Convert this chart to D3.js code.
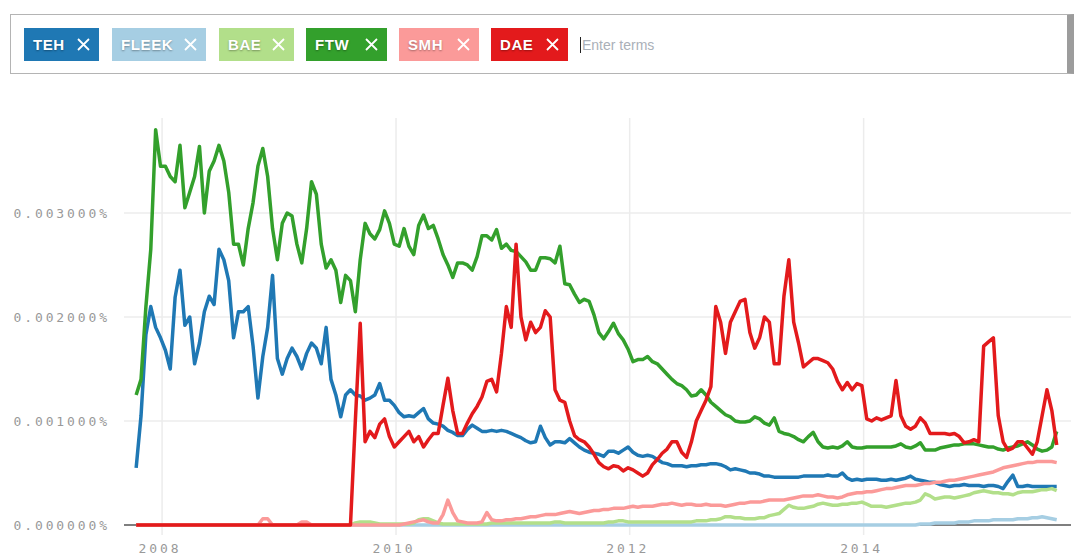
<!DOCTYPE html>
<html>
<head>
<meta charset="utf-8">
<script src="https://cdn.jsdelivr.net/npm/d3@7"></script>
<style>
  body { margin: 0; background: #fff; width: 1079px; height: 556px; overflow: hidden; position: relative; }
  #terms {
    position: absolute; left: 10px; top: 14px; width: 1056px; height: 58px;
    border: 1px solid #b4b4b4; border-right: 7px solid #9c9c9c; box-sizing: content-box;
  }
  .chip {
    position: absolute; top: 13px; height: 33px; line-height: 33px;
    font-family: "Liberation Sans", Arial, sans-serif; font-weight: bold; font-size: 15px;
    color: #fff; text-shadow: 0 1px 2px rgba(0,0,0,0.35); letter-spacing: 0.6px;
    padding-left: 9px; white-space: nowrap; box-sizing: border-box;
  }
  .chip svg { position: absolute; right: 9px; top: 10px; }
  #placeholder {
    position: absolute; left: 569px; top: 22px; font-family: "Liberation Sans", Arial, sans-serif;
    font-size: 14px; color: #aab0b8; border-left: 1.5px solid #222; padding-left: 1px; line-height: 16px;
  }
  #chart { position: absolute; left: 0; top: 0; }
  .lbl { font-family: "DejaVu Sans Mono", monospace; font-size: 13px; fill: #999; letter-spacing: 2.9px; }
</style>
</head>
<body>
<div id="terms"></div>
<svg id="chart" width="1079" height="556"></svg>
<script>
// search terms, same order as the chips
const terms = ["TEH", "FLEEK", "BAE", "FTW", "SMH", "DAE"];
const termColors = ["#1f78b4", "#a6cee3", "#b2df8a", "#33a02c", "#fb9a99", "#e31a1c"];
const chipLeft = [13, 101, 208, 295, 388, 480];
const chipWidth = [75, 94, 75, 81, 80, 77];

// semi-monthly samples, first one in mid October 2007
const firstDay = new Date(2007, 9, 12);
const stepDays = 365.25 / 24;

// values in thousandths of a percent (3 = 0.003000%)
const teh = [
  0.55, 1.05, 1.83, 2.1, 1.9, 1.8, 1.68, 1.5, 2.19, 2.45,
  1.92, 2.0, 1.55, 1.75, 2.05, 2.2, 2.12, 2.65, 2.55, 2.35,
  1.8, 2.05, 2.05, 2.1, 1.72, 1.22, 1.62, 1.9, 2.4, 1.6,
  1.45, 1.6, 1.7, 1.62, 1.5, 1.65, 1.75, 1.7, 1.55, 1.9,
  1.4, 1.25, 1.04, 1.25, 1.3, 1.25, 1.24, 1.2, 1.22, 1.25,
  1.36, 1.2, 1.2, 1.15, 1.08, 1.04, 1.05, 1.04, 1.08, 1.12,
  1.02, 0.98, 0.97, 0.95, 0.91, 0.89, 0.86, 0.86, 0.92, 0.96,
  0.93, 0.9, 0.9, 0.91, 0.9, 0.91, 0.9, 0.88, 0.86, 0.84,
  0.81, 0.79, 0.8, 0.95, 0.84, 0.77, 0.8, 0.8, 0.79, 0.83,
  0.79, 0.75, 0.72, 0.7, 0.69, 0.68, 0.66, 0.71, 0.71, 0.69,
  0.72, 0.75, 0.7, 0.67, 0.66, 0.67, 0.66, 0.63, 0.6, 0.59,
  0.57, 0.57, 0.57, 0.56, 0.57, 0.57, 0.58, 0.58, 0.59, 0.59,
  0.58, 0.56, 0.53, 0.54, 0.53, 0.52, 0.5, 0.5, 0.49, 0.47,
  0.47, 0.46, 0.46, 0.46, 0.46, 0.46, 0.46, 0.47, 0.47, 0.47,
  0.47, 0.47, 0.48, 0.47, 0.47, 0.5, 0.45, 0.43, 0.44, 0.43,
  0.44, 0.44, 0.44, 0.43, 0.43, 0.44, 0.43, 0.44, 0.45, 0.47,
  0.44, 0.43, 0.42, 0.41, 0.41, 0.39, 0.38, 0.37, 0.38, 0.38,
  0.39, 0.38, 0.38, 0.38, 0.37, 0.38, 0.38, 0.37, 0.35, 0.42,
  0.48, 0.37, 0.37, 0.38, 0.37, 0.37, 0.37, 0.37, 0.37, 0.37
];
const fleek = [
  0, 0, 0, 0, 0, 0, 0, 0, 0, 0,
  0, 0, 0, 0, 0, 0, 0, 0, 0, 0,
  0, 0, 0, 0, 0, 0, 0, 0, 0, 0,
  0, 0, 0, 0, 0, 0, 0, 0, 0, 0,
  0, 0, 0, 0, 0, 0, 0, 0, 0, 0,
  0, 0, 0, 0, 0, 0, 0, 0, 0, 0,
  0, 0, 0, 0, 0, 0, 0, 0, 0, 0,
  0, 0, 0, 0, 0, 0, 0, 0, 0, 0,
  0, 0, 0, 0, 0, 0, 0, 0, 0, 0,
  0, 0, 0, 0, 0, 0, 0, 0, 0, 0,
  0, 0, 0, 0, 0, 0, 0, 0, 0, 0,
  0, 0, 0, 0, 0, 0, 0, 0, 0, 0,
  0, 0, 0, 0, 0, 0, 0, 0, 0, 0,
  0, 0, 0, 0, 0, 0, 0, 0, 0, 0,
  0, 0, 0, 0, 0, 0, 0, 0, 0, 0,
  0, 0, 0, 0, 0, 0, 0, 0, 0, 0,
  0, 0.01, 0.01, 0.01, 0.02, 0.02, 0.02, 0.02, 0.02, 0.03,
  0.03, 0.03, 0.04, 0.04, 0.04, 0.04, 0.05, 0.05, 0.05, 0.05,
  0.05, 0.06, 0.06, 0.06, 0.07, 0.07, 0.08, 0.07, 0.06, 0.05
];
const bae = [
  0, 0, 0, 0, 0, 0, 0, 0, 0, 0,
  0, 0, 0, 0, 0, 0, 0, 0, 0, 0,
  0, 0, 0, 0, 0, 0, 0, 0, 0, 0,
  0, 0, 0, 0, 0, 0, 0, 0, 0, 0,
  0, 0, 0, 0, 0, 0.02, 0.03, 0.03, 0.03, 0.02,
  0.01, 0.01, 0.01, 0.01, 0.01, 0.01, 0.01, 0.02, 0.05, 0.06,
  0.06, 0.04, 0.02, 0.01, 0.01, 0.01, 0.01, 0.01, 0.01, 0.01,
  0.01, 0.01, 0.01, 0.02, 0.02, 0.02, 0.02, 0.02, 0.02, 0.02,
  0.02, 0.02, 0.02, 0.02, 0.02, 0.02, 0.03, 0.03, 0.02, 0.02,
  0.02, 0.02, 0.02, 0.02, 0.02, 0.02, 0.02, 0.03, 0.03, 0.04,
  0.04, 0.03, 0.03, 0.03, 0.03, 0.03, 0.03, 0.03, 0.03, 0.03,
  0.03, 0.03, 0.03, 0.03, 0.03, 0.04, 0.04, 0.04, 0.05, 0.05,
  0.06, 0.08, 0.08, 0.07, 0.07, 0.06, 0.06, 0.06, 0.07, 0.07,
  0.09, 0.1, 0.11, 0.15, 0.19, 0.17, 0.16, 0.16, 0.17, 0.18,
  0.2, 0.21, 0.2, 0.19, 0.19, 0.2, 0.2, 0.21, 0.21, 0.22,
  0.2, 0.18, 0.18, 0.18, 0.17, 0.18, 0.19, 0.2, 0.21, 0.21,
  0.22, 0.24, 0.3, 0.28, 0.25, 0.26, 0.27, 0.27, 0.26, 0.27,
  0.28, 0.29, 0.31, 0.32, 0.33, 0.32, 0.31, 0.31, 0.3, 0.3,
  0.29, 0.31, 0.32, 0.32, 0.32, 0.33, 0.34, 0.34, 0.35, 0.33
];
const ftw = [
  1.25, 1.4, 2.1, 2.65, 3.8, 3.45, 3.45, 3.35, 3.3, 3.65,
  3.05, 3.2, 3.35, 3.64, 3.0, 3.4, 3.5, 3.65, 3.5, 3.2,
  2.7, 2.7, 2.5, 2.85, 3.1, 3.45, 3.62, 3.35, 2.85, 2.55,
  2.9, 3.0, 2.97, 2.7, 2.52, 2.85, 3.3, 3.18, 2.7, 2.47,
  2.55, 2.45, 2.14, 2.4, 2.35, 2.05, 2.55, 2.9, 2.8, 2.75,
  2.84, 3.02, 2.9, 2.7, 2.68, 2.85, 2.68, 2.6, 2.88, 2.98,
  2.85, 2.88, 2.75, 2.6, 2.5, 2.38, 2.52, 2.52, 2.5, 2.45,
  2.58, 2.78, 2.78, 2.74, 2.84, 2.66, 2.7, 2.64, 2.63, 2.58,
  2.53, 2.45, 2.45, 2.57, 2.57, 2.56, 2.52, 2.68, 2.32, 2.31,
  2.22, 2.14, 2.17, 2.15, 2.02, 1.85, 1.79, 1.86, 1.94, 1.84,
  1.78, 1.69, 1.57, 1.59, 1.59, 1.62, 1.57, 1.55, 1.5, 1.45,
  1.4, 1.36, 1.34, 1.3, 1.24, 1.25, 1.3, 1.25, 1.18, 1.14,
  1.1, 1.06, 1.04, 1.0, 0.99, 0.99, 1.0, 1.04, 1.02, 0.98,
  0.96, 1.03, 0.9, 0.88, 0.87, 0.85, 0.82, 0.8, 0.85, 0.89,
  0.8, 0.75, 0.74, 0.75, 0.74, 0.76, 0.8, 0.75, 0.74, 0.74,
  0.75, 0.75, 0.75, 0.75, 0.75, 0.75, 0.76, 0.78, 0.75, 0.74,
  0.76, 0.79, 0.72, 0.72, 0.72, 0.74, 0.75, 0.76, 0.77, 0.77,
  0.78, 0.78, 0.78, 0.77, 0.76, 0.75, 0.75, 0.73, 0.72, 0.74,
  0.75, 0.76, 0.78, 0.8, 0.77, 0.73, 0.71, 0.72, 0.75, 0.9
];
const smh = [
  0, 0, 0, 0, 0, 0, 0, 0, 0, 0,
  0, 0, 0, 0, 0, 0, 0, 0, 0, 0,
  0, 0, 0, 0, 0, 0, 0.06, 0.06, 0, 0,
  0, 0, 0, 0, 0.03, 0.03, 0, 0, 0, 0,
  0, 0, 0, 0, 0, 0, 0, 0, 0, 0,
  0, 0, 0, 0, 0, 0.01, 0.02, 0.03, 0.04, 0.05,
  0.03, 0.02, 0.02, 0.1, 0.24, 0.12, 0.04, 0.03, 0.02, 0.02,
  0.02, 0.03, 0.12, 0.05, 0.04, 0.04, 0.05, 0.05, 0.06, 0.06,
  0.07, 0.08, 0.08, 0.09, 0.1, 0.1, 0.1, 0.11, 0.12, 0.13,
  0.12, 0.11, 0.12, 0.13, 0.14, 0.14, 0.15, 0.15, 0.16, 0.16,
  0.16, 0.17, 0.18, 0.17, 0.18, 0.18, 0.18, 0.19, 0.2, 0.2,
  0.21, 0.2, 0.19, 0.2, 0.2, 0.19, 0.19, 0.2, 0.19, 0.19,
  0.19, 0.18, 0.19, 0.2, 0.21, 0.21, 0.22, 0.22, 0.22, 0.23,
  0.24, 0.24, 0.24, 0.24, 0.25, 0.26, 0.27, 0.28, 0.28, 0.28,
  0.29, 0.28, 0.27, 0.27, 0.26, 0.27, 0.29, 0.3, 0.31, 0.31,
  0.32, 0.32, 0.33, 0.34, 0.35, 0.35, 0.36, 0.37, 0.38, 0.38,
  0.38, 0.39, 0.4, 0.4, 0.41, 0.41, 0.42, 0.43, 0.43, 0.44,
  0.45, 0.46, 0.47, 0.48, 0.49, 0.5, 0.51, 0.53, 0.55, 0.56,
  0.57, 0.58, 0.59, 0.6, 0.6, 0.61, 0.61, 0.61, 0.61, 0.6
];
const dae = [
  0, 0, 0, 0, 0, 0, 0, 0, 0, 0,
  0, 0, 0, 0, 0, 0, 0, 0, 0, 0,
  0, 0, 0, 0, 0, 0, 0, 0, 0, 0,
  0, 0, 0, 0, 0, 0, 0, 0, 0, 0,
  0, 0, 0, 0, 0, 1.0, 1.94, 0.8, 0.9, 0.84,
  0.97, 1.02, 0.85, 0.75, 0.8, 0.85, 0.9, 0.8, 0.85, 0.75,
  0.82, 0.88, 0.88, 1.15, 1.41, 1.1, 0.88, 0.88, 0.98, 1.07,
  1.14, 1.23, 1.38, 1.4, 1.28, 1.65, 2.1, 1.9, 2.7, 2.0,
  1.78, 1.95, 1.85, 1.9, 2.06, 2.0, 1.3, 1.2, 1.18, 1.0,
  0.86, 0.82, 0.8, 0.75, 0.68, 0.6, 0.56, 0.54, 0.57, 0.56,
  0.52, 0.55, 0.53, 0.5, 0.47, 0.5, 0.58, 0.63, 0.69, 0.73,
  0.8, 0.8, 0.7, 0.65, 0.8, 1.0, 1.1, 1.2, 1.33, 2.1,
  1.95, 1.65, 1.95, 2.05, 2.15, 2.17, 1.85, 1.7, 1.8, 2.0,
  1.95, 1.55, 1.55, 2.2, 2.55, 1.95, 1.75, 1.52, 1.56, 1.6,
  1.6, 1.58, 1.56, 1.5, 1.38, 1.3, 1.37, 1.3, 1.36, 1.34,
  1.02, 1.0, 1.03, 1.01, 1.03, 1.05, 1.39, 1.05, 0.95, 0.92,
  0.95, 1.03, 0.98, 0.88, 0.88, 0.88, 0.88, 0.87, 0.88, 0.85,
  0.79, 0.8, 0.82, 0.8, 1.72, 1.76, 1.8, 1.05, 0.8, 0.72,
  0.74, 0.8, 0.8, 0.74, 0.68, 0.8, 1.05, 1.3, 1.1, 0.77
];

const yTicks = [0, 1, 2, 3];
const yearTicks = [2008, 2010, 2012, 2014];

const seriesValues = [teh, fleek, bae, ftw, smh, dae];

// ---- term chips ----
const box = d3.select("#terms");
const chips = box.selectAll(".chip")
  .data(terms)
  .enter()
  .append("div")
  .attr("class", "chip")
  .style("left", (d, i) => chipLeft[i] + "px")
  .style("width", (d, i) => chipWidth[i] + "px")
  .style("background", (d, i) => termColors[i]);
chips.append("span").text(d => d);
// the remove cross
const cross = chips.append("svg").attr("width", 13).attr("height", 13);
cross.append("path")
  .attr("d", "M1,1L12,12M12,1L1,12")
  .attr("stroke", "#fff")
  .attr("stroke-width", 1.8)
  .attr("fill", "none");
box.append("div").attr("id", "placeholder").text("Enter terms");

// ---- chart ----
const svg = d3.select("#chart");
const plot = { left: 124, right: 1071, top: 118, bottom: 525 };

const x = d3.scaleTime()
  .domain([new Date(2007, 8, 4), new Date(2015, 9, 11)])
  .range([plot.left, plot.right]);
const y = d3.scaleLinear()
  .domain([0, 3.913])
  .range([plot.bottom, plot.top]);

const dates = teh.map((d, i) => d3.timeHour.offset(firstDay, Math.round(i * stepDays * 24)));

// grid
svg.append("g")
  .selectAll("line")
  .data(yTicks.slice(1))
  .enter()
  .append("line")
  .attr("x1", plot.left)
  .attr("x2", plot.right)
  .attr("y1", d => y(d))
  .attr("y2", d => y(d))
  .attr("stroke", "#ececec")
  .attr("stroke-width", 1.5);

svg.append("g")
  .selectAll("line")
  .data(yearTicks)
  .enter()
  .append("line")
  .attr("x1", d => x(new Date(d, 0, 1)))
  .attr("x2", d => x(new Date(d, 0, 1)))
  .attr("y1", plot.top)
  .attr("y2", plot.bottom + 10)
  .attr("stroke", "#ececec")
  .attr("stroke-width", 1.5);

// y labels
svg.append("g")
  .selectAll("text")
  .data(yTicks)
  .enter()
  .append("text")
  .attr("class", "lbl")
  .attr("x", 110)
  .attr("y", d => y(d))
  .attr("dy", "0.35em")
  .attr("text-anchor", "end")
  .text(d => (d / 1000).toFixed(6) + "%");

// x labels
svg.append("g")
  .selectAll("text")
  .data(yearTicks)
  .enter()
  .append("text")
  .attr("class", "lbl")
  .attr("x", d => x(new Date(d, 0, 1)) - 2)
  .attr("y", plot.bottom + 28)
  .attr("text-anchor", "middle")
  .text(d => d);

// baseline
svg.append("line")
  .attr("x1", plot.left)
  .attr("x2", plot.right)
  .attr("y1", plot.bottom)
  .attr("y2", plot.bottom)
  .attr("stroke", "#555")
  .attr("stroke-width", 1.5);

// lines
const line = d3.line()
  .x((d, i) => x(dates[i]))
  .y(d => y(d));

svg.append("g")
  .selectAll("path")
  .data(seriesValues)
  .enter()
  .append("path")
  .attr("d", line)
  .attr("fill", "none")
  .attr("stroke", (d, i) => termColors[i])
  .attr("stroke-width", 3.5)
  .attr("stroke-linejoin", "round");
</script>
</body>
</html>
